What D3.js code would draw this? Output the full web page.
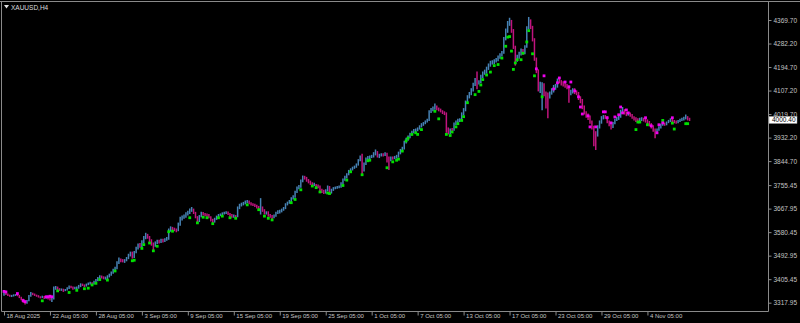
<!DOCTYPE html>
<html>
<head>
<meta charset="utf-8">
<script src="https://cdn.jsdelivr.net/npm/d3@7"></script>
<style>
  html, body { margin: 0; padding: 0; background: #000; }
  svg { display: block; }
  text { font-family: "Liberation Sans", Arial, sans-serif; }
</style>
</head>
<body>
<svg id="chart"></svg>
<script>
'use strict';

// XAUUSD H4 bars, 18 Aug 2025 .. 7 Nov 2025 (open = previous close)
const firstOpen = 3348;

const closes = [
  3354,3350,3346,3342,3344,3346,3347,3345,3338,3330,3322,3318,3326,3344,3352,3350,3346,3344,3340,3338,3341,3336,3337,3336,
  3332,3334,3372,3374,3370,3366,3368,3364,3366,3372,3378,3376,3372,3374,3374,3380,3386,3384,3382,3386,3390,3392,3388,3396,
  3402,3410,3415,3414,3410,3411,3416,3422,3430,3440,3448,3468,3478,3476,3474,3476,3484,3496,3504,3490,3506,3522,3532,3530,
  3545,3560,3568,3562,3550,3538,3532,3540,3546,3544,3550,3548,3552,3556,3588,3596,3592,3590,3588,3610,3632,3636,3640,3648,
  3654,3662,3664,3652,3636,3622,3640,3650,3648,3646,3644,3636,3626,3620,3630,3638,3644,3646,3650,3652,3654,3648,3644,3640,
  3640,3638,3672,3680,3684,3688,3692,3694,3688,3684,3682,3678,3674,3666,3670,3660,3652,3654,3644,3640,3636,3642,3652,3656,
  3660,3664,3670,3684,3690,3696,3706,3712,3730,3746,3750,3770,3786,3782,3774,3768,3762,3756,3758,3754,3750,3738,3732,3730,
  3736,3748,3728,3738,3744,3746,3748,3750,3762,3776,3784,3796,3808,3814,3820,3824,3832,3848,3860,3812,3836,3854,3858,3860,
  3862,3872,3878,3862,3866,3870,3868,3872,3860,3850,3858,3856,3860,3862,3876,3886,3894,3916,3926,3936,3946,3954,3958,3960,
  3966,3974,3980,3986,3992,3998,4030,4036,4042,4046,4040,4036,4030,4026,4022,3956,3950,3962,3960,3984,3992,3996,3998,4020,
  4036,4064,4084,4096,4110,4130,4146,4136,4140,4160,4172,4176,4190,4202,4210,4214,4218,4222,4232,4240,4248,4300,4330,4356,
  4362,4330,4268,4222,4232,4246,4258,4246,4270,4340,4366,4342,4296,4222,4180,4122,4126,4128,4098,4090,4084,4098,4110,4120,
  4126,4146,4140,4136,4130,4126,4120,4098,4104,4110,4102,4098,4080,4070,4046,4024,4016,4008,3990,3970,3948,3940,3972,3990,
  4006,4010,4008,3992,3980,3972,3986,3998,4004,4010,4030,4034,4024,4020,4022,4016,4008,4004,3998,3996,4000,4002,3998,3996,
  3988,3980,3972,3962,3950,3962,3970,3980,3984,3982,3988,3994,3998,3996,3992,3990,3994,3998,4000,4004,4008,4002,4000.4
];

const highs = [
  3358,3356,3352,3348,3347,3349,3350,3350,3347,3340,3333,3325,3328,3347,3358,3355,3352,3348,3346,3342,3344,3343,3340,3339,
  3340,3338,3378,3380,3378,3372,3371,3370,3369,3375,3382,3381,3378,3377,3378,3384,3390,3389,3386,3389,3393,3396,3394,3400,
  3406,3414,3420,3419,3416,3415,3420,3426,3434,3444,3452,3472,3486,3482,3480,3480,3488,3500,3508,3508,3510,3526,3538,3540,
  3550,3566,3578,3574,3566,3554,3542,3546,3552,3552,3556,3556,3558,3562,3594,3602,3600,3597,3594,3616,3638,3642,3646,3654,
  3660,3668,3674,3668,3656,3640,3644,3656,3655,3652,3650,3648,3640,3630,3634,3642,3648,3650,3654,3656,3658,3657,3652,3648,
  3646,3644,3676,3686,3690,3693,3698,3700,3698,3692,3688,3686,3682,3678,3707,3676,3666,3658,3658,3648,3644,3646,3656,3662,
  3664,3668,3674,3688,3694,3700,3710,3718,3734,3750,3756,3776,3791,3790,3786,3778,3772,3766,3764,3760,3758,3754,3742,3738,
  3740,3754,3752,3742,3748,3750,3752,3754,3766,3780,3790,3800,3812,3818,3824,3828,3836,3852,3866,3872,3840,3858,3864,3866,
  3868,3878,3888,3882,3872,3874,3874,3878,3876,3862,3862,3862,3864,3868,3880,3890,3898,3920,3932,3940,3950,3958,3964,3966,
  3970,3978,3986,3990,3996,4002,4034,4042,4048,4059,4052,4044,4040,4034,4030,4026,3970,3966,3968,3988,3996,4002,4004,4026,
  4042,4070,4090,4102,4116,4136,4154,4178,4146,4166,4178,4185,4196,4208,4218,4220,4224,4228,4238,4246,4254,4306,4338,4366,
  4378,4370,4336,4274,4240,4252,4264,4262,4276,4346,4381,4372,4348,4302,4230,4186,4140,4138,4134,4104,4100,4104,4116,4128,
  4132,4152,4154,4146,4142,4136,4132,4126,4110,4116,4116,4108,4102,4086,4076,4052,4030,4022,4014,3996,3976,3956,3978,3996,
  4012,4016,4016,4012,3996,3986,3990,4002,4010,4016,4036,4046,4038,4028,4028,4026,4020,4012,4008,4004,4006,4008,4006,4002,
  4000,3994,3986,3978,3966,3966,3974,3984,3990,3988,3992,3998,4004,4002,3998,3996,3998,4002,4006,4010,4018,4012,4006
];

const lows = [
  3344,3347,3343,3340,3339,3341,3343,3342,3335,3327,3318,3311,3314,3323,3340,3346,3343,3340,3337,3334,3335,3332,3333,3330,
  3326,3321,3330,3366,3366,3362,3362,3358,3361,3363,3369,3372,3366,3368,3368,3370,3376,3380,3376,3378,3383,3386,3382,3386,
  3390,3398,3406,3408,3405,3404,3406,3412,3418,3426,3434,3442,3462,3468,3468,3466,3472,3480,3490,3482,3484,3502,3516,3522,
  3524,3538,3554,3556,3544,3530,3512,3526,3536,3538,3540,3542,3544,3548,3552,3582,3586,3584,3580,3584,3604,3624,3630,3634,
  3642,3648,3656,3648,3632,3616,3618,3636,3642,3640,3638,3632,3620,3612,3616,3626,3634,3640,3642,3646,3648,3644,3638,3634,
  3634,3632,3636,3666,3676,3680,3684,3688,3684,3680,3678,3674,3668,3660,3646,3656,3646,3646,3638,3634,3628,3632,3638,3648,
  3650,3654,3660,3666,3680,3686,3692,3702,3708,3726,3740,3746,3766,3776,3768,3762,3756,3750,3752,3748,3744,3732,3726,3722,
  3724,3732,3722,3724,3734,3740,3742,3744,3746,3758,3772,3780,3792,3804,3810,3816,3820,3828,3844,3796,3806,3830,3848,3852,
  3856,3858,3866,3858,3856,3862,3862,3864,3840,3812,3844,3850,3852,3854,3858,3870,3880,3888,3910,3920,3930,3940,3948,3952,
  3956,3962,3970,3976,3982,3988,3994,4024,4030,4036,4034,4030,4026,4020,4016,3950,3944,3946,3954,3958,3978,3986,3990,3994,
  4014,4030,4058,4078,4090,4104,4124,4112,4130,4134,4154,4166,4170,4184,4196,4204,4206,4212,4216,4226,4234,4244,4294,4322,
  4348,4322,4262,4200,4214,4226,4238,4240,4242,4266,4334,4336,4290,4218,4172,4104,4098,4034,4086,4040,4004,4078,4092,4100,
  4110,4118,4134,4126,4122,4118,4112,4062,4090,4096,4094,4090,4072,4060,4038,4018,4006,3998,3984,3962,3900,3886,3936,3966,
  3984,4000,4002,3986,3974,3962,3968,3982,3994,3998,4006,4024,4018,4012,4014,4010,4002,3996,3990,3988,3992,3994,3992,3988,
  3982,3974,3966,3954,3930,3946,3958,3966,3976,3976,3978,3986,3990,3988,3986,3984,3986,3990,3994,3996,4000,3996,3994
];

// indicator dots [bar index, price]
const greenDots = [
  [20,3325],[28,3362],[34,3356],[38,3364],[42,3370],[44,3372],[46,3384],[48,3390],[50,3404],[54,3402],[58,3436],
  [67,3474],[68,3476],[72,3520],[73,3534],[76,3540],[78,3511],[80,3528],[86,3582],[88,3584],[97,3634],[101,3615],
  [104,3636],[106,3634],[109,3612],[112,3634],[114,3640],[118,3634],[121,3632],[127,3682],[133,3664],[136,3640],
  [138,3632],[140,3626],[150,3690],[152,3702],[155,3738],[161,3752],[163,3746],[165,3730],[169,3726],[170,3724],
  [177,3754],[179,3774],[181,3805],[187,3794],[190,3846],[191,3848],[200,3820],[203,3842],[205,3848],[206,3852],
  [208,3882],[210,3920],[211,3930],[213,3944],[215,3950],[216,3944],[218,3962],[225,4030],[227,4002],[231,3944],
  [233,3940],[234,3953],[236,3972],[237,3984],[239,3996],[240,4010],[242,4062],[246,4092],[248,4104],[249,4128],
  [250,4148],[252,4165],[254,4176],[256,4200],[258,4204],[260,4228],[262,4272],[263,4306],[264,4308],[265,4254],
  [266,4186],[267,4210],[268,4222],[270,4222],[271,4246],[273,4288],[274,4330],[276,4244],[277,4162],[281,4084],
  [330,3962],[331,3990],[332,3990],[336,3980],[344,3996],[349,3986],[350,3964],[356,3984],[357,3984]
];
const magentaDots = [
  [0,3360],[1,3358],[7,3352],[10,3326],[11,3322],[22,3340],[23,3340],[24,3342],[25,3340],
  [278,4188],[282,4162],[287,4113],[289,4136],[290,4154],[293,4139],[295,4121],[296,4139],[298,4106],[300,4084],
  [301,4046],[302,4020],[305,4013],[306,3972],[309,3972],[313,4028],[314,4028],[315,4006],[317,3987],[319,4009],
  [321,4017],[322,4046],[323,4024],[325,4035],[326,4024],[335,4006],[338,3976],[341,3950],[342,3980],[344,3987],[349,4006]
];

const dateTicks = [0,24,48,72,96,120,144,168,192,216,240,264,288,312,336];
const dateLabels = ["18 Aug 2025","22 Aug 05:00","28 Aug 05:00","3 Sep 05:00","9 Sep 05:00","15 Sep 05:00",
  "19 Sep 05:00","25 Sep 05:00","1 Oct 05:00","7 Oct 05:00","13 Oct 05:00","17 Oct 05:00","23 Oct 05:00",
  "29 Oct 05:00","4 Nov 05:00"];
const priceTicks = [4369.70,4282.20,4194.70,4107.20,4019.70,3932.20,3844.70,3755.45,3667.95,3580.45,3492.95,3405.45,3317.95];
const lastPrice = 4000.40;

const width = 800, height = 323;
const svg = d3.select("#chart").attr("width", width).attr("height", height);
svg.append("rect").attr("width", width).attr("height", height).attr("fill", "#000");

const x = d3.scaleLinear().domain([0, 358]).range([4, 4 + 358 * 1.915]);
const y = d3.scaleLinear().domain([3317.95, 4369.70]).range([302.7, 20]);

const bars = closes.map((c, i) => ({ i, o: i ? closes[i - 1] : firstOpen, h: highs[i], l: lows[i], c }));

// frame
const frame = [[0, 1.5, 800, 1.5], [1.5, 1.5, 1.5, 311.5], [768.5, 1.5, 768.5, 311.5], [1.5, 311.5, 768.5, 311.5]];
svg.append("g").selectAll("line")
  .data(frame)
  .enter()
  .append("line")
  .attr("x1", d => d[0]).attr("y1", d => d[1])
  .attr("x2", d => d[2]).attr("y2", d => d[3])
  .attr("stroke", "#8a8a8a");

// bars
svg.append("g").selectAll("line")
  .data(bars)
  .enter()
  .append("line")
  .attr("x1", d => x(d.i)).attr("x2", d => x(d.i))
  .attr("y1", d => y(d.h)).attr("y2", d => y(d.l))
  .attr("stroke", d => d.c >= d.o ? "#4682b4" : "#c0147e")
  .attr("stroke-width", 1.5);

// dots
svg.append("g").selectAll("rect")
  .data(greenDots)
  .enter()
  .append("rect")
  .attr("x", d => x(d[0]) - 1.4).attr("y", d => y(d[1]) - 1.4)
  .attr("width", 2.8).attr("height", 2.8)
  .attr("fill", "#00e000");

svg.append("g").selectAll("rect")
  .data(magentaDots)
  .enter()
  .append("rect")
  .attr("x", d => x(d[0]) - 1.4).attr("y", d => y(d[1]) - 1.4)
  .attr("width", 2.8).attr("height", 2.8)
  .attr("fill", "#f000f0");

// price axis
const gy = svg.append("g")
  .attr("transform", "translate(768.5,0)")
  .call(d3.axisRight(y).tickValues(priceTicks).tickSize(3).tickPadding(2).tickFormat(d3.format(".2f")));
gy.select(".domain").remove();
gy.selectAll("line").attr("stroke", "#8a8a8a");
gy.selectAll("text").attr("fill", "#c4c4c4").style("font-size", "6.5px");

// date axis
const gx = svg.append("g")
  .attr("transform", "translate(0,311.5)")
  .call(d3.axisBottom(x).tickValues(dateTicks).tickSize(4).tickFormat((d, k) => dateLabels[k]));
gx.select(".domain").remove();
gx.selectAll("line").attr("stroke", "#8a8a8a");
gx.selectAll("text")
  .attr("text-anchor", "start")
  .attr("x", 2)
  .attr("y", 2.5)
  .attr("fill", "#c4c4c4")
  .style("font-size", "6px");

// current price box
const ly = y(lastPrice);
svg.append("rect")
  .attr("x", 769).attr("y", ly - 2.8).attr("width", 28).attr("height", 7)
  .attr("fill", "#fff").attr("stroke", "#9a9a9a").attr("stroke-width", 0.5);
svg.append("text")
  .attr("x", 772).attr("y", ly + 2.9)
  .attr("fill", "#000").style("font-size", "6.5px")
  .text(d3.format(".2f")(lastPrice));

// title
svg.append("path").attr("d", "M4,5 L9,5 L6.5,8.5 Z").attr("fill", "#e0e0e0");
svg.append("text").attr("x", 11).attr("y", 9.5).attr("fill", "#dcdcdc").style("font-size", "6.5px").text("XAUUSD,H4");
</script>
</body>
</html>
